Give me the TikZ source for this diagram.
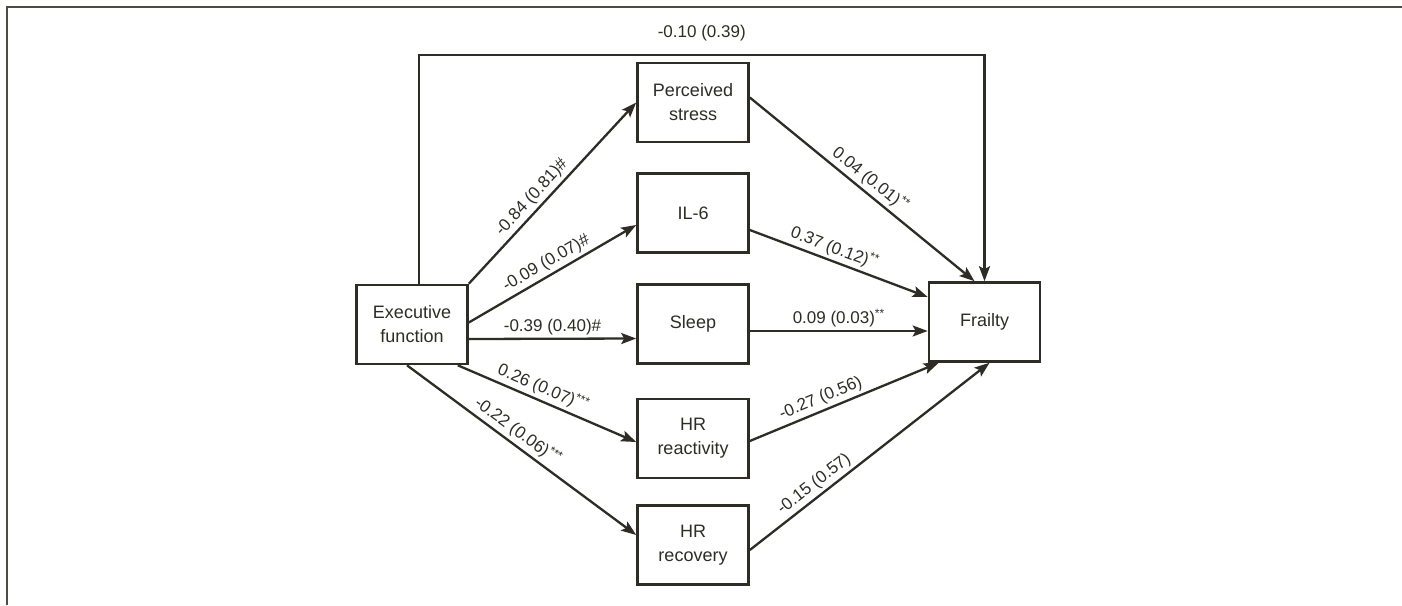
\documentclass[tikz,border=0pt]{standalone}
\usepackage{fontspec}
\setmainfont{Liberation Sans}
\usetikzlibrary{arrows.meta}
\definecolor{ink}{RGB}{45,45,38}
\tikzset{
  box/.style={draw=ink, line width=2.6pt, minimum width=111pt, minimum height=79pt,
    inner sep=0pt, align=center, font=\fontsize{18}{24}\selectfont, text=ink},
  conn/.style={draw=ink, line width=2.3pt, -{Stealth[length=15pt,width=11pt,inset=3pt]}},
  lab/.style={font=\fontsize{17}{20}\selectfont, text=ink, inner sep=3pt}
}
\begin{document}
\begin{tikzpicture}[x=1pt,y=-1pt]
\useasboundingbox (0,0) rectangle (1402,605);
\fill[white] (0,0) rectangle (1402,605);
% frame (top and left)
\draw[line width=2pt, draw=ink!85] (6.5,605) -- (6.5,6.5) -- (1402,6.5);

\node[box] (ef) at (412,324.5) {Executive\\function};
\node[box] (ps) at (693,102.5) {Perceived\\stress};
\node[box] (il) at (693,213) {IL-6};
\node[box] (sl) at (693,324) {Sleep};
\node[box] (hr1) at (693,438.5) {HR\\reactivity};
\node[box] (hr2) at (693,545) {HR\\recovery};
\node[box] (fr) at (984.5,322) {Frailty};

\coordinate (c1) at (419,55);
\coordinate (c2) at (984.5,55);
\draw[conn] ([xshift=7pt]ef.north) -- (c1) -- node[lab, above=10pt] {-0.10 (0.39)} (c2) -- (fr.north);

\draw[conn] (ef.north east) -- node[lab, pos=0.43, above, sloped] {-0.84 (0.81)\#} (ps.west);
\draw[conn] ([yshift=2pt]ef.east) -- node[lab, pos=0.5, above, sloped] {-0.09 (0.07)\#} ([yshift=-12pt]il.west);
\draw[conn] ([yshift=-14.5pt]ef.east) -- node[lab, pos=0.5, above] {-0.39 (0.40)\#} ([yshift=-14.5pt]sl.west);
\draw[conn] ([xshift=-11pt]ef.south east) -- node[lab, pos=0.45, above, sloped] {0.26 (0.07)\textsuperscript{***}} ([yshift=-3.5pt]hr1.west);
\draw[conn] ([xshift=-5pt]ef.south) -- node[lab, pos=0.45, above, sloped] {-0.22 (0.06)\textsuperscript{***}} ([yshift=10pt]hr2.west);

\draw[conn] ([yshift=5pt]ps.east) -- node[lab, pos=0.5, above, sloped] {0.04 (0.01)\textsuperscript{**}} ([xshift=-10pt]fr.north);
\draw[conn] ([yshift=-17pt]il.east) -- node[lab, pos=0.45, above, sloped] {0.37 (0.12)\textsuperscript{**}} ([yshift=25pt]fr.west);
\draw[conn] ([yshift=-7pt]sl.east) -- node[lab, pos=0.5, above] {0.09 (0.03)\textsuperscript{**}} ([yshift=-9pt]fr.west);
\draw[conn] ([yshift=-2.5pt]hr1.east) -- node[lab, pos=0.4, above, sloped] {-0.27 (0.56)} ([xshift=11pt]fr.south west);
\draw[conn] ([yshift=-5pt]hr2.east) -- node[lab, pos=0.3, above, sloped] {-0.15 (0.57)} ([xshift=5pt]fr.south);
\end{tikzpicture}
\end{document}
